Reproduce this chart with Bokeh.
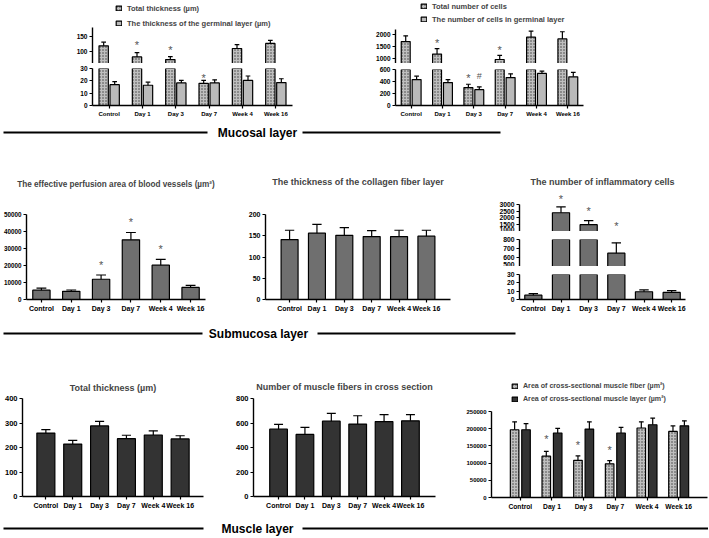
from bokeh.plotting import figure
from bokeh.models import (ColumnDataSource, FactorRange, Range1d, FixedTicker,
                          BasicTickFormatter, Legend, LegendItem, Spacer)
from bokeh.layouts import row, column
from bokeh.transform import dodge
from bokeh.core.properties import value
from bokeh.embed import file_html
from bokeh.resources import INLINE

# ---------------- data ----------------
CATS = ["Control", "Day 1", "Day 3", "Day 7", "Week 4", "Week 16"]

# Mucosal layer: thickness (µm)
MUC_TOTAL_THICK = [120, 83, 74, 18, 111, 128]
MUC_TOTAL_THICK_ERR = [12, 14, 10, 2.3, 13, 10]
MUC_GERM_THICK = [16.9, 16.4, 18.3, 18.3, 20.3, 18.6]
MUC_GERM_THICK_ERR = [2.5, 2.5, 2.0, 2.5, 3.6, 3.1]
MUC_THICK_STAR_CATS = ["Day 1", "Day 3", "Day 7"]
MUC_THICK_STAR_Y = [130, 113, 24.5]

# Mucosal layer: number of cells
MUC_TOTAL_CELLS = [1718, 1197, 298, 972, 1901, 1831]
MUC_TOTAL_CELLS_ERR = [240, 226, 56, 169, 254, 296]
MUC_GERM_CELLS = [432, 382, 264, 466, 534, 478]
MUC_GERM_CELLS_ERR = [57, 50, 45, 62, 39, 73]
MUC_CELLS_STAR_CATS = ["Day 1", "Day 3", "Day 7"]
MUC_CELLS_STAR_Y = [1761, 506, 1479]
MUC_CELLS_HASH_CATS = ["Day 3"]
MUC_CELLS_HASH_Y = [494]

# Submucosa layer
PERFUSION = [5500, 4800, 11900, 35100, 20200, 7100]
PERFUSION_ERR = [1200, 800, 2500, 4300, 3400, 1200]
PERFUSION_STAR_CATS = ["Day 3", "Day 7", "Week 4"]
PERFUSION_STAR_Y = [21500, 47100, 31200]

COLLAGEN = [141, 156, 151, 148, 148, 149]
COLLAGEN_ERR = [22, 21, 18, 14, 15, 14]

INFLAM = [5.2, 2375, 1500, 648, 9.3, 8.5]
INFLAM_ERR = [1.8, 425, 300, 115, 2.2, 2.2]
INFLAM_STAR_CATS = ["Day 1", "Day 3", "Day 7"]
INFLAM_STAR_Y = [3587, 2686, 1600]

# Muscle layer
MUS_THICK = [259, 214, 288, 236, 251, 235]
MUS_THICK_ERR = [14, 15, 19, 14, 17, 13]

MUS_FIBERS = [550, 507, 615, 591, 612, 618]
MUS_FIBERS_ERR = [38, 57, 63, 68, 57, 51]

MUS_AREA_FIBER = [197000, 120000, 108000, 98000, 202000, 192000]
MUS_AREA_FIBER_ERR = [23000, 14000, 13000, 9000, 18000, 16000]
MUS_AREA_LAYER = [197000, 187500, 199000, 187500, 211500, 208500]
MUS_AREA_LAYER_ERR = [18000, 13500, 21000, 16500, 19500, 14500]
MUS_AREA_STAR_CATS = ["Day 1", "Day 3", "Day 7"]
MUS_AREA_STAR_Y = [178000, 160600, 144000]

# ---------------- styles ----------------
FONT = "Liberation Sans"
MID_GRAY = "#6f6f6f"
DARK = "#333333"
LIGHT = "#bababa"
HATCH_FILL = "#bfbfbf"
HATCH_COLOR = "#3c3c3c"
STAR_COLOR = "#555555"


def style_axis(a, size):
    a.axis_line_width = 1.4
    a.axis_line_color = "black"
    a.major_tick_line_width = 1.2
    a.major_tick_line_color = "black"
    a.major_tick_out = 3
    a.major_tick_in = 0
    a.minor_tick_out = 0
    a.minor_tick_in = 0
    a.major_label_text_font = FONT
    a.major_label_text_font_size = size
    a.major_label_text_font_style = "bold"
    a.major_label_text_color = "black"
    a.major_label_standoff = 2


def base_fig(fw, fh, bl, br, bt, bb, yr, ticks, pad, xaxis=True, yaxis=True,
             tick_size="7px", xlab_size="7px", bounds=None):
    p = figure(width=bl + fw + br, height=bt + fh + bb,
               x_range=FactorRange(factors=CATS, range_padding=pad,
                                   range_padding_units="absolute"),
               y_range=Range1d(*yr),
               x_axis_location="below" if xaxis else None,
               y_axis_location="left" if yaxis else None,
               output_backend="svg", toolbar_location=None,
               min_border_left=bl, min_border_right=br,
               min_border_top=bt, min_border_bottom=bb)
    p.outline_line_color = None
    p.xgrid.grid_line_color = None
    p.ygrid.grid_line_color = None
    if yaxis:
        ya = p.yaxis[0]
        ya.ticker = FixedTicker(ticks=ticks, minor_ticks=[])
        ya.formatter = BasicTickFormatter(use_scientific=False)
        style_axis(ya, tick_size)
        if bounds is not None:
            ya.bounds = bounds
    if xaxis:
        style_axis(p.xaxis[0], xlab_size)
    return p


def bars(p, vals, errs, off, width, cap, **style):
    src = ColumnDataSource(dict(cat=CATS, v=vals,
                                e=[a + b for a, b in zip(vals, errs)]))
    x = dodge("cat", off, range=p.x_range)
    r = p.vbar(x=x, top="v", bottom=0, width=width, source=src,
               line_color="black", line_width=1.2, **style)
    p.segment(x0=x, y0="v", x1=x, y1="e", source=src,
              line_color="black", line_width=1.2)
    p.segment(x0=dodge("cat", off - cap, range=p.x_range), y0="e",
              x1=dodge("cat", off + cap, range=p.x_range), y1="e",
              source=src, line_color="black", line_width=1.2)
    return r


def stars(p, cats, ys, mark, off, size="11px", yoff=2.5):
    # only the marks that fall inside this (axis-break) segment
    lo, hi = p.y_range.start, p.y_range.end
    keep = [(c, y) for c, y in zip(cats, ys) if lo <= y <= hi]
    if not keep:
        return
    src = ColumnDataSource(dict(cat=[k[0] for k in keep],
                                y=[k[1] for k in keep],
                                t=[mark] * len(keep)))
    p.text(x=dodge("cat", off, range=p.x_range), y="y", text="t", source=src,
           text_font=value(FONT), text_font_size=size, text_align="center",
           text_baseline="middle", text_color=STAR_COLOR, y_offset=yoff)


def add_legend(p, items, loc, size, label_h, spacing):
    lg = Legend(items=[LegendItem(label=l, renderers=[r]) for l, r in items],
                location=loc, orientation="vertical",
                label_text_font=FONT, label_text_font_size=size,
                label_text_font_style="bold", glyph_width=7, glyph_height=6,
                label_height=label_h, label_standoff=5, spacing=spacing,
                padding=0, margin=0, border_line_color=None,
                background_fill_alpha=0)
    p.add_layout(lg)


def set_title(p, text, standoff, size="9px"):
    p.title.text = text
    p.title.align = "center"
    p.title.text_font = FONT
    p.title.text_font_size = size
    p.title.text_font_style = "bold"
    p.title.standoff = standoff


def divider(label, w, h, line_y, left_end, center, right_start, right_end):
    p = figure(width=w, height=h, x_range=Range1d(0, w),
               y_range=Range1d(h, 0), x_axis_location=None,
               y_axis_location=None, output_backend="svg",
               toolbar_location=None, min_border_left=0, min_border_right=0,
               min_border_top=0, min_border_bottom=0)
    p.outline_line_color = None
    p.xgrid.grid_line_color = None
    p.ygrid.grid_line_color = None
    p.segment(x0=[3, right_start], y0=[line_y, line_y],
              x1=[left_end, right_end], y1=[line_y, line_y],
              line_color="black", line_width=2)
    p.text(x=[center], y=[line_y], text=[label], text_font=value(FONT),
           text_font_size="12px", text_font_style="bold", text_align="center",
           text_baseline="middle", text_color="black")
    return p


HATCH = dict(fill_color=HATCH_FILL, hatch_pattern="dot", hatch_scale=3,
             hatch_color=HATCH_COLOR, hatch_weight=1)

# ---------------- top row: mucosal ----------------
A_up = base_fig(200, 63, 30, 5, 0, 0, (61, 271), [100, 150], 0,
                xaxis=False, tick_size="6.5px", bounds=(61, 181))
ra1 = bars(A_up, MUC_TOTAL_THICK, MUC_TOTAL_THICK_ERR, -0.165, 0.28, 0.07, **HATCH)
ra2 = bars(A_up, MUC_GERM_THICK, MUC_GERM_THICK_ERR, 0.165, 0.28, 0.07, fill_color=LIGHT)
stars(A_up, MUC_THICK_STAR_CATS, MUC_THICK_STAR_Y, "*", -0.165)
add_legend(A_up, [("Total thickness (µm)", ra1),
                  ("The thickness of the germinal layer (µm)", ra2)],
           (23, 34), "7.5px", 12, 3)

A_lo = base_fig(200, 37, 30, 5, 5, 17, (0, 30), [0, 10, 20, 30], 0,
                tick_size="6.5px", xlab_size="6px")
bars(A_lo, MUC_TOTAL_THICK, MUC_TOTAL_THICK_ERR, -0.165, 0.28, 0.07, **HATCH)
bars(A_lo, MUC_GERM_THICK, MUC_GERM_THICK_ERR, 0.165, 0.28, 0.07, fill_color=LIGHT)
stars(A_lo, MUC_THICK_STAR_CATS, MUC_THICK_STAR_Y, "*", -0.165)

B_up = base_fig(188, 63, 28, 5, 0, 0, (805, 3430), [1000, 1500, 2000], 0,
                xaxis=False, tick_size="6.5px", bounds=(805, 2240))
rb1 = bars(B_up, MUC_TOTAL_CELLS, MUC_TOTAL_CELLS_ERR, -0.174, 0.285, 0.075, **HATCH)
rb2 = bars(B_up, MUC_GERM_CELLS, MUC_GERM_CELLS_ERR, 0.174, 0.285, 0.075, fill_color=LIGHT)
stars(B_up, MUC_CELLS_STAR_CATS, MUC_CELLS_STAR_Y, "*", -0.174)
add_legend(B_up, [("Total number of cells", rb1),
                  ("The number of cells in germinal layer", rb2)],
           (25, 39), "7.5px", 10, 3)

B_lo = base_fig(188, 36, 28, 5, 6, 17, (0, 600), [0, 200, 400, 600], 0,
                tick_size="6.5px", xlab_size="6px")
bars(B_lo, MUC_TOTAL_CELLS, MUC_TOTAL_CELLS_ERR, -0.174, 0.285, 0.075, **HATCH)
bars(B_lo, MUC_GERM_CELLS, MUC_GERM_CELLS_ERR, 0.174, 0.285, 0.075, fill_color=LIGHT)
stars(B_lo, MUC_CELLS_STAR_CATS, MUC_CELLS_STAR_Y, "*", -0.174)
stars(B_lo, MUC_CELLS_HASH_CATS, MUC_CELLS_HASH_Y, "#", 0.174, size="9px", yoff=0)

top_row = row(Spacer(width=62, height=122), column(A_up, A_lo),
              Spacer(width=70, height=122), column(B_up, B_lo))

# ---------------- middle row: submucosa ----------------
P = base_fig(182, 87, 23, 10, 72, 13, (0, 50000),
             [0, 10000, 20000, 30000, 40000, 50000], 0, tick_size="6.3px")
bars(P, PERFUSION, PERFUSION_ERR, 0, 0.58, 0.165, fill_color=MID_GRAY)
stars(P, PERFUSION_STAR_CATS, PERFUSION_STAR_Y, "*", 0)
set_title(P, "The effective perfusion area of blood vessels (µm²)", 51, size="8.2px")

C = base_fig(185, 95, 30, 5, 64, 13, (0, 200), [0, 50, 100, 150, 200], 0.38)
bars(C, COLLAGEN, COLLAGEN_ERR, 0, 0.62, 0.17, fill_color=MID_GRAY)
set_title(C, "The thickness of the collagen fiber layer", 55)

I_top = base_fig(166, 41, 33, 15, 48, 0, (1000, 4004),
                 [1000, 1500, 2000, 2500, 3000], 0, xaxis=False,
                 tick_size="6.8px", bounds=(1000, 3000))
bars(I_top, INFLAM, INFLAM_ERR, 0, 0.62, 0.17, fill_color=MID_GRAY)
stars(I_top, INFLAM_STAR_CATS, INFLAM_STAR_Y, "*", 0)
set_title(I_top, "The number of inflammatory cells", 7)

I_mid = base_fig(166, 27, 33, 15, 8, 0, (500, 800), [500, 600, 700, 800], 0,
                 xaxis=False, tick_size="6.8px")
bars(I_mid, INFLAM, INFLAM_ERR, 0, 0.62, 0.17, fill_color=MID_GRAY)

I_bot = base_fig(166, 27, 33, 15, 8, 13, (0, 30), [0, 10, 20, 30], 0,
                 tick_size="6.8px")
bars(I_bot, INFLAM, INFLAM_ERR, 0, 0.62, 0.17, fill_color=MID_GRAY)

mid_row = row(P, Spacer(width=20, height=172), C, Spacer(width=31, height=172),
              column(I_top, I_mid, I_bot))

# ---------------- bottom row: muscle ----------------
BL = base_fig(181, 98, 22, 5, 50, 16, (0, 400), [0, 100, 200, 300, 400], 0.37,
              tick_size="7.5px")
bars(BL, MUS_THICK, MUS_THICK_ERR, 0, 0.67, 0.17, fill_color=DARK)
set_title(BL, "Total thickness (µm)", 12)

BC = base_fig(182, 99, 27, 5, 50, 15, (0, 800), [0, 200, 400, 600, 800], 0.45,
              tick_size="7.5px")
bars(BC, MUS_FIBERS, MUS_FIBERS_ERR, 0, 0.67, 0.17, fill_color=DARK)
set_title(BC, "Number of muscle fibers in cross section", 14)

BR_up = base_fig(245, 59, 0, 0, 0, 0, (250000, 400000), [], 0,
                 xaxis=False, yaxis=False)
rr1 = bars(BR_up, MUS_AREA_FIBER, MUS_AREA_FIBER_ERR, -0.18, 0.27, 0.075, **HATCH)
rr2 = bars(BR_up, MUS_AREA_LAYER, MUS_AREA_LAYER_ERR, 0.18, 0.27, 0.075, fill_color=DARK)
add_legend(BR_up, [("Area of cross-sectional muscle fiber (µm²)", rr1),
                   ("Area of cross-sectional muscle layer (µm²)", rr2)],
           (20, 3), "7.1px", 11, 2)

BR = base_fig(216, 86, 28, 1, 4, 15, (0, 250000),
              [0, 50000, 100000, 150000, 200000, 250000], 0.41,
              tick_size="6px", xlab_size="6.7px")
bars(BR, MUS_AREA_FIBER, MUS_AREA_FIBER_ERR, -0.18, 0.27, 0.075, **HATCH)
bars(BR, MUS_AREA_LAYER, MUS_AREA_LAYER_ERR, 0.18, 0.27, 0.075, fill_color=DARK)
stars(BR, MUS_AREA_STAR_CATS, MUS_AREA_STAR_Y, "*", -0.18)

bot_row = row(BL, Spacer(width=18, height=164), BC,
              Spacer(width=23, height=164), column(BR_up, BR))

# ---------------- section dividers ----------------
D1 = divider("Mucosal layer", 708, 20, 10, 207, 257, 302, 500)
D2 = divider("Submucosa layer", 708, 34, 19, 202, 258, 317, 515)
D3 = divider("Muscle layer", 708, 24, 16, 203, 257, 302, 708)

layout = column(top_row, D1, mid_row, D2, bot_row, D3)

open("out.html", "w").write(file_html(layout, INLINE))
